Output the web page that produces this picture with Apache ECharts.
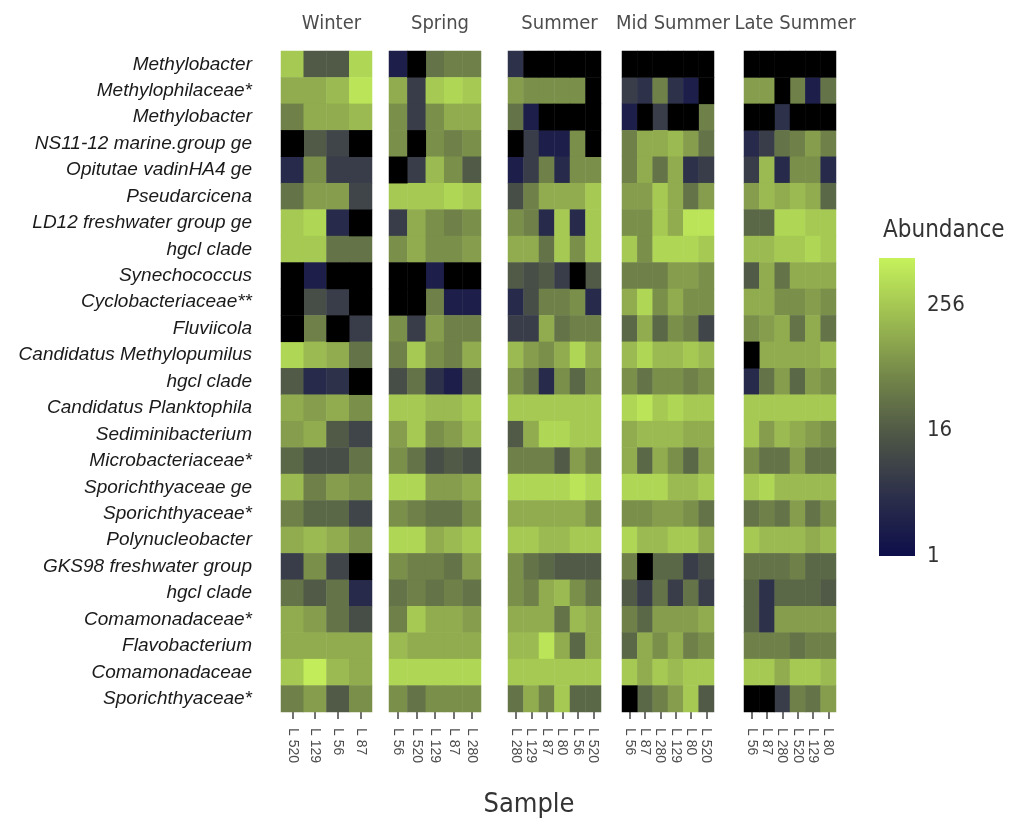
<!DOCTYPE html>
<html>
<head>
<meta charset="utf-8">
<script src="https://cdn.jsdelivr.net/npm/echarts@6/dist/echarts.min.js"></script>
<style>
html,body{margin:0;padding:0;background:#fff;}
#chart{width:1009px;height:831px;}
</style>
</head>
<body>
<div id="chart"></div>
<script>
// ---- Data (abundance; 0 = not detected, drawn black) ----
const taxa = [
  "Methylobacter","Methylophilaceae*","Methylobacter","NS11-12 marine.group ge",
  "Opitutae vadinHA4 ge","Pseudarcicena","LD12 freshwater group ge","hgcl clade",
  "Synechococcus","Cyclobacteriaceae**","Fluviicola","Candidatus Methylopumilus",
  "hgcl clade","Candidatus Planktophila","Sediminibacterium","Microbacteriaceae*",
  "Sporichthyaceae ge","Sporichthyaceae*","Polynucleobacter","GKS98 freshwater group",
  "hgcl clade","Comamonadaceae*","Flavobacterium","Comamonadaceae","Sporichthyaceae*"
];
const seasons = ["Winter","Spring","Summer","Mid Summer","Late Summer"];
const winterSamples = ["L 520","L 129","L 56","L 87"];
const springSamples = ["L 56","L 520","L 129","L 87","L 280"];
const summerSamples = ["L 280","L 129","L 87","L 80","L 56","L 520"];
const midSummerSamples = ["L 56","L 87","L 280","L 129","L 80","L 520"];
const lateSummerSamples = ["L 56","L 87","L 280","L 520","L 129","L 80"];

const winter = [
  [260,16,16,360],[128,128,180,510],[45,128,128,180],[0,16,8,0],[3,64,6,6],
  [32,90,90,8],[260,360,3,0],[260,260,32,32],[0,2,0,0],[0,11,6,0],
  [0,45,0,6],[360,180,128,32],[16,3,4,0],[128,90,128,64],[90,128,16,8],
  [23,11,11,32],[180,45,90,64],[45,23,23,8],[128,180,128,64],[6,64,8,0],
  [32,16,32,3],[128,90,32,11],[128,128,128,128],[260,630,180,128],[45,90,16,64]
];
const spring = [
  [2,0,32,45,45],[128,6,260,360,260],[64,6,64,128,128],[64,0,64,45,64],[0,6,180,64,16],
  [260,260,260,360,260],[6,128,64,45,64],[64,128,64,64,90],[0,0,2,0,0],[0,0,45,2,2],
  [64,6,90,45,45],[45,260,64,45,128],[11,32,4,2,16],[260,260,180,180,260],[90,260,64,90,180],
  [64,32,11,16,11],[360,360,90,90,128],[64,45,32,32,64],[360,360,128,180,260],[64,45,45,32,90],
  [32,45,32,45,32],[45,260,128,128,90],[180,128,128,128,128],[360,360,360,360,360],[64,32,64,64,64]
];
const summer = [
  [4,0,0,0,0,0],[90,64,64,64,64,0],[32,2,0,0,0,0],[0,6,2,2,64,0],[2,6,45,3,64,64],
  [11,45,128,128,128,260],[64,45,3,260,3,260],[128,128,32,260,64,260],[16,11,16,6,0,16],[3,11,45,45,64,3],
  [6,6,128,32,45,45],[180,90,64,128,360,128],[64,32,3,64,23,64],[260,260,260,260,260,260],[16,128,360,360,260,260],
  [45,45,45,16,90,45],[360,360,360,360,510,360],[128,128,128,128,128,64],[260,260,180,180,260,260],[64,32,23,16,16,16],
  [64,45,128,180,64,32],[128,128,128,32,180,128],[180,180,510,128,23,128],[260,260,260,260,260,260],[32,128,45,260,23,23]
];
const midSummer = [
  [0,0,0,0,0,0],[6,4,45,4,2,0],[2,0,6,0,0,45],[45,128,128,180,90,32],[45,128,32,128,4,6],
  [90,90,260,128,32,90],[64,64,260,128,510,510],[260,64,360,360,360,260],[45,45,45,90,90,64],[128,360,64,128,64,64],
  [23,128,23,64,45,8],[180,360,180,180,260,180],[64,32,64,64,45,64],[360,510,260,360,260,260],[128,180,180,180,128,128],
  [128,23,128,64,23,90],[360,360,360,180,180,260],[64,64,90,90,64,32],[360,180,180,260,260,128],[45,0,23,23,6,11],
  [16,6,32,6,32,6],[45,23,90,90,90,128],[23,128,64,128,45,64],[260,128,260,180,260,260],[0,23,45,90,260,16]
];
const lateSummer = [
  [0,0,0,0,0,0],[90,90,0,45,2,32],[0,0,4,0,0,0],[3,6,32,45,90,45],[6,180,3,64,64,3],
  [90,180,128,180,128,23],[23,23,360,360,260,260],[180,180,260,260,360,260],[16,128,32,128,128,128],[128,128,64,64,90,64],
  [64,90,128,32,128,32],[0,128,128,128,128,180],[3,32,90,23,90,64],[260,260,260,260,260,260],[260,90,180,128,90,64],
  [64,32,32,90,32,32],[260,360,180,180,180,180],[32,45,32,90,32,64],[260,180,180,180,128,180],[32,32,32,45,23,23],
  [23,4,23,23,23,16],[23,4,90,90,90,90],[45,45,45,32,45,45],[260,260,128,260,260,180],[0,0,6,45,32,90]
];
const legendTicks = [1,16,256];

// ---- Build chart ----
const panelData = [winter, spring, summer, midSummer, lateSummer];
const panelSamples = [winterSamples, springSamples, summerSamples, midSummerSamples, lateSummerSamples];
const panelLeft = [281, 389, 508, 622, 744];
const panelWidth = [91, 92, 93, 92, 92];
const TOP = 51, HEIGHT = 661;
const colors = ['#0d0e4a','#2c2f4a','#4d5546','#738649','#9dbd51','#c6f25b'];
const LOGMAX = 9.5;

const grids = [], xAxes = [], yAxes = [], series = [], titles = [];
const narrow = '"DejaVu Sans Condensed","Liberation Sans",sans-serif';
const mappedSeries = [];

panelData.forEach((mat, i) => {
  grids.push({left: panelLeft[i], top: TOP, width: panelWidth[i], height: HEIGHT});
  xAxes.push({
    type: 'category', gridIndex: i, data: panelSamples[i], position: 'bottom',
    axisLine: {show: false},
    axisTick: {show: true, alignWithLabel: true, length: 7, lineStyle: {color: '#444', width: 1.5}},
    axisLabel: {interval: 0, rotate: -90, fontSize: 14, color: '#4d4d4d', margin: 16,
      fontFamily: '"Liberation Sans",Arial,sans-serif'}
  });
  yAxes.push({
    type: 'category', gridIndex: i, data: taxa, inverse: true,
    axisLine: {show: false}, axisTick: {show: false},
    axisLabel: {show: i === 0, interval: 0, fontSize: 19, fontStyle: 'italic', color: '#1a1a1a', margin: 29,
      fontFamily: '"Liberation Sans",Arial,sans-serif'}
  });
  const detected = [], absent = [];
  mat.forEach((row, r) => row.forEach((v, c) => {
    if (v > 0) detected.push([c, r, v, Math.log2(v)]);
    else absent.push([c, r, v]);
  }));
  mappedSeries.push(series.length);
  series.push({type: 'heatmap', xAxisIndex: i, yAxisIndex: i, data: detected,
    itemStyle: {borderWidth: 0}, emphasis: {disabled: true}, progressive: 0});
  series.push({type: 'heatmap', xAxisIndex: i, yAxisIndex: i, data: absent,
    itemStyle: {color: '#000', borderWidth: 0}, emphasis: {disabled: true}, progressive: 0});
  titles.push({text: seasons[i], left: panelLeft[i] + panelWidth[i] / 2, top: 9, textAlign: 'center',
    textStyle: {fontSize: 20, fontWeight: 'normal', color: '#4d4d4d', fontFamily: narrow}});
});

titles.push({text: 'Sample', left: 524, top: 786, textAlign: 'center',
  textStyle: {fontSize: 27, fontWeight: 'normal', color: '#333', fontFamily: narrow}});
titles.push({text: 'Abundance', left: 878, top: 214,
  textStyle: {fontSize: 24, fontWeight: 'normal', color: '#333', fontFamily: narrow}});

// colour bar grid
grids.push({left: 879, top: 258, width: 36, height: 298});
xAxes.push({type: 'category', gridIndex: 5, data: ['Abundance'], show: false});
yAxes.push({type: 'value', gridIndex: 5, min: 0, max: LOGMAX, interval: 4, position: 'right',
  axisLine: {show: false}, splitLine: {show: false},
  axisTick: {show: true, inside: true, length: 6, lineStyle: {color: '#fff', width: 1.5}},
  axisLabel: {fontSize: 22, color: '#333', margin: 12, fontFamily: narrow,
    formatter: v => { const t = Math.round(Math.pow(2, v)); return legendTicks.includes(t) ? String(t) : ''; }}
});
yAxes.push({type: 'value', gridIndex: 5, min: 0, max: LOGMAX, interval: 4, position: 'left',
  axisLine: {show: false}, splitLine: {show: false}, axisLabel: {show: false},
  axisTick: {show: true, inside: true, length: 6, lineStyle: {color: '#fff', width: 1.5}}
});
const stops = colors.map((c, k) => ({offset: 1 - k / (colors.length - 1), color: c})).reverse();
series.push({type: 'bar', xAxisIndex: 5, yAxisIndex: 5, data: [LOGMAX], barWidth: '100%', silent: true,
  itemStyle: {color: {type: 'linear', x: 0, y: 0, x2: 0, y2: 1, colorStops: stops}}});

const chart = echarts.init(document.getElementById('chart'));
chart.setOption({
  animation: false,
  backgroundColor: '#fff',
  title: titles,
  grid: grids,
  xAxis: xAxes,
  yAxis: yAxes,
  visualMap: {show: false, type: 'continuous', min: 0, max: LOGMAX, dimension: 3,
    seriesIndex: mappedSeries, inRange: {color: colors}},
  series: series
});
</script>
</body>
</html>
